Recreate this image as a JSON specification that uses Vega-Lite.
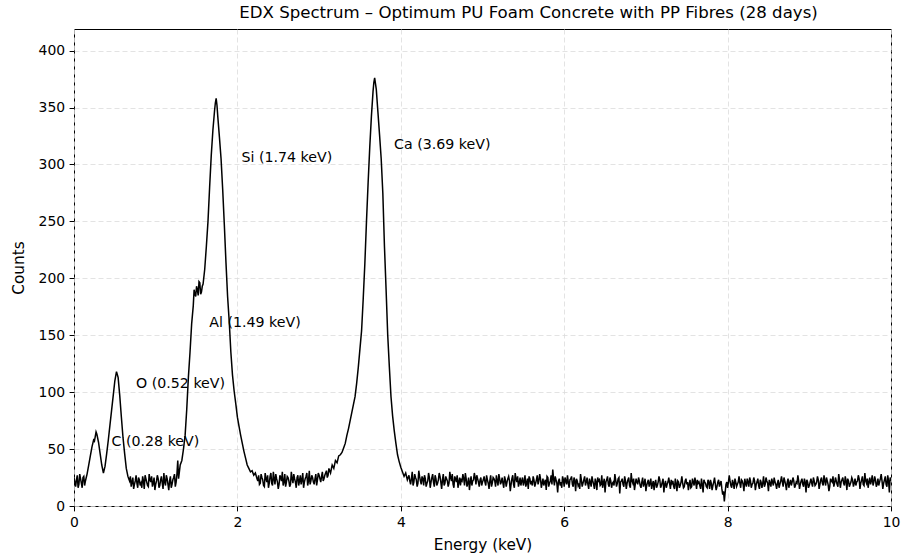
{
"$schema": "https://vega.github.io/schema/vega-lite/v6.json",
"width": 817, "height": 477,
"autosize": {"type": "none"},
"padding": {"left": 74, "top": 29, "right": 11, "bottom": 52},
"background": "white",
"title": {"text": "EDX Spectrum – Optimum PU Foam Concrete with PP Fibres (28 days)", "fontSize": 16.6, "fontWeight": "normal", "font": "DejaVu Sans", "color": "#000", "offset": 7, "anchor": "middle", "dx": 46},
"datasets": {
"spec": [
{"e":0.00,"c":25},{"e":0.02,"c":17},{"e":0.04,"c":27},{"e":0.06,"c":19},{"e":0.08,"c":24},{"e":0.10,"c":16},{"e":0.12,"c":26},{"e":0.14,"c":22},
{"e":0.16,"c":28},{"e":0.18,"c":36},{"e":0.20,"c":44},{"e":0.22,"c":52},{"e":0.24,"c":58},{"e":0.26,"c":61},{"e":0.28,"c":63},{"e":0.30,"c":56},{"e":0.32,"c":46},{"e":0.34,"c":36},{"e":0.36,"c":29},
{"e":0.38,"c":35},{"e":0.40,"c":46},{"e":0.42,"c":58},{"e":0.44,"c":71},{"e":0.46,"c":84},{"e":0.48,"c":97},{"e":0.50,"c":110},{"e":0.52,"c":118},{"e":0.54,"c":113},{"e":0.56,"c":97},{"e":0.58,"c":78},{"e":0.60,"c":60},{"e":0.62,"c":46},{"e":0.64,"c":33},{"e":0.66,"c":26},
{"e":0.68,"c":22},{"e":0.70,"c":17},{"e":0.72,"c":25},{"e":0.74,"c":19},{"e":0.76,"c":27},{"e":0.78,"c":16},{"e":0.80,"c":23},{"e":0.82,"c":20},{"e":0.84,"c":26},{"e":0.86,"c":15},{"e":0.88,"c":24},{"e":0.90,"c":18},{"e":0.92,"c":28},{"e":0.94,"c":21},{"e":0.96,"c":17},{"e":0.98,"c":25},{"e":1.00,"c":19},{"e":1.02,"c":27},{"e":1.04,"c":16},{"e":1.06,"c":23},{"e":1.08,"c":20},{"e":1.10,"c":29},{"e":1.12,"c":18},{"e":1.14,"c":24},{"e":1.16,"c":14},{"e":1.18,"c":26},{"e":1.20,"c":19},{"e":1.22,"c":25},{"e":1.24,"c":17},{"e":1.26,"c":28},
{"e":1.28,"c":24},{"e":1.30,"c":36},{"e":1.32,"c":40},{"e":1.34,"c":50},{"e":1.36,"c":62},{"e":1.38,"c":85},{"e":1.40,"c":113},{"e":1.42,"c":135},{"e":1.44,"c":160},{"e":1.46,"c":176},{"e":1.48,"c":186},{"e":1.50,"c":193},{"e":1.52,"c":185},{"e":1.54,"c":196},{"e":1.56,"c":188},{"e":1.58,"c":195},{"e":1.60,"c":208},{"e":1.62,"c":228},{"e":1.64,"c":250},{"e":1.66,"c":280},{"e":1.68,"c":308},{"e":1.70,"c":330},{"e":1.72,"c":347},{"e":1.74,"c":358},{"e":1.76,"c":342},{"e":1.78,"c":324},{"e":1.80,"c":305},{"e":1.82,"c":278},{"e":1.84,"c":247},{"e":1.86,"c":214},{"e":1.88,"c":184},{"e":1.90,"c":162},{"e":1.92,"c":135},{"e":1.94,"c":115},{"e":1.96,"c":101},{"e":1.98,"c":90},{"e":2.00,"c":78},{"e":2.02,"c":70},{"e":2.04,"c":62},{"e":2.06,"c":55},{"e":2.08,"c":48},{"e":2.10,"c":42},{"e":2.12,"c":36},{"e":2.14,"c":33},{"e":2.16,"c":30},{"e":2.18,"c":31},{"e":2.20,"c":27},{"e":2.22,"c":29},{"e":2.24,"c":24},
{"e":2.26,"c":27},{"e":2.28,"c":20},{"e":2.30,"c":25},{"e":2.32,"c":18},{"e":2.34,"c":29},{"e":2.36,"c":21},{"e":2.38,"c":16},{"e":2.40,"c":26},{"e":2.42,"c":20},{"e":2.44,"c":30},{"e":2.46,"c":19},{"e":2.48,"c":24},{"e":2.50,"c":15},{"e":2.52,"c":27},{"e":2.54,"c":22},{"e":2.56,"c":18},{"e":2.58,"c":28},{"e":2.60,"c":21},{"e":2.62,"c":25},{"e":2.64,"c":17},{"e":2.66,"c":30},{"e":2.68,"c":20},{"e":2.70,"c":24},{"e":2.72,"c":16},{"e":2.74,"c":27},{"e":2.76,"c":22},{"e":2.78,"c":19},{"e":2.80,"c":29},{"e":2.82,"c":21},{"e":2.84,"c":26},{"e":2.86,"c":18},{"e":2.88,"c":31},{"e":2.90,"c":22},{"e":2.92,"c":25},{"e":2.94,"c":19},{"e":2.96,"c":28},{"e":2.98,"c":23},{"e":3.00,"c":27},{"e":3.02,"c":21},{"e":3.04,"c":30},{"e":3.06,"c":24},{"e":3.08,"c":29},{"e":3.10,"c":25},
{"e":3.12,"c":33},{"e":3.14,"c":29},{"e":3.16,"c":36},{"e":3.18,"c":33},{"e":3.20,"c":40},{"e":3.22,"c":38},{"e":3.24,"c":44},{"e":3.26,"c":45},{"e":3.28,"c":47},{"e":3.30,"c":51},{"e":3.32,"c":55},{"e":3.34,"c":62},{"e":3.36,"c":68},{"e":3.38,"c":75},{"e":3.40,"c":82},{"e":3.42,"c":89},{"e":3.44,"c":96},{"e":3.46,"c":108},{"e":3.48,"c":122},{"e":3.50,"c":138},{"e":3.52,"c":154},{"e":3.54,"c":182},{"e":3.56,"c":213},{"e":3.58,"c":250},{"e":3.60,"c":284},{"e":3.62,"c":315},{"e":3.64,"c":342},{"e":3.66,"c":364},{"e":3.68,"c":376},{"e":3.70,"c":366},{"e":3.72,"c":346},{"e":3.74,"c":326},{"e":3.76,"c":305},{"e":3.78,"c":275},{"e":3.80,"c":228},{"e":3.82,"c":190},{"e":3.84,"c":150},{"e":3.86,"c":122},{"e":3.88,"c":96},{"e":3.90,"c":79},{"e":3.92,"c":66},{"e":3.94,"c":55},{"e":3.96,"c":45},{"e":3.98,"c":39},{"e":4.00,"c":34},{"e":4.02,"c":30},{"e":4.04,"c":26},{"e":4.06,"c":29},{"e":4.08,"c":23},
{"e":4.10,"c":27},{"e":4.12,"c":19},{"e":4.14,"c":30},{"e":4.16,"c":21},{"e":4.18,"c":25},{"e":4.20,"c":17},{"e":4.22,"c":31},{"e":4.24,"c":22},{"e":4.26,"c":26},{"e":4.28,"c":18},{"e":4.30,"c":24},{"e":4.32,"c":20},{"e":4.34,"c":29},{"e":4.36,"c":16},{"e":4.38,"c":25},{"e":4.40,"c":21},{"e":4.42,"c":27},{"e":4.44,"c":18},{"e":4.46,"c":23},{"e":4.48,"c":26},{"e":4.50,"c":15},{"e":4.52,"c":28},{"e":4.54,"c":20},{"e":4.56,"c":24},{"e":4.58,"c":17},{"e":4.60,"c":30},{"e":4.62,"c":22},{"e":4.64,"c":19},{"e":4.66,"c":26},{"e":4.68,"c":21},{"e":4.70,"c":16},{"e":4.72,"c":25},{"e":4.74,"c":23},{"e":4.76,"c":28},{"e":4.78,"c":18},{"e":4.80,"c":24},{"e":4.82,"c":20},{"e":4.84,"c":14},{"e":4.86,"c":26},{"e":4.88,"c":22},{"e":4.90,"c":29},{"e":4.92,"c":19},{"e":4.94,"c":24},{"e":4.96,"c":17},{"e":4.98,"c":25},{"e":5.00,"c":21},
{"e":5.02,"c":26},{"e":5.04,"c":18},{"e":5.06,"c":23},{"e":5.08,"c":15},{"e":5.10,"c":27},{"e":5.12,"c":20},{"e":5.14,"c":24},{"e":5.16,"c":17},{"e":5.18,"c":22},{"e":5.20,"c":28},{"e":5.22,"c":19},{"e":5.24,"c":25},{"e":5.26,"c":16},{"e":5.28,"c":23},{"e":5.30,"c":21},{"e":5.32,"c":26},{"e":5.34,"c":13},{"e":5.36,"c":24},{"e":5.38,"c":19},{"e":5.40,"c":29},{"e":5.42,"c":21},{"e":5.44,"c":17},{"e":5.46,"c":25},{"e":5.48,"c":22},{"e":5.50,"c":18},{"e":5.52,"c":27},{"e":5.54,"c":20},{"e":5.56,"c":15},{"e":5.58,"c":24},{"e":5.60,"c":22},{"e":5.62,"c":26},{"e":5.64,"c":17},{"e":5.66,"c":23},{"e":5.68,"c":19},{"e":5.70,"c":28},{"e":5.72,"c":16},{"e":5.74,"c":24},{"e":5.76,"c":21},{"e":5.78,"c":14},{"e":5.80,"c":25},{"e":5.82,"c":20},{"e":5.84,"c":27},{"e":5.86,"c":32},{"e":5.88,"c":18},{"e":5.90,"c":23},{"e":5.92,"c":12},{"e":5.94,"c":24},{"e":5.96,"c":21},{"e":5.98,"c":26},{"e":6.00,"c":17},
{"e":6.02,"c":22},{"e":6.04,"c":27},{"e":6.06,"c":16},{"e":6.08,"c":24},{"e":6.10,"c":19},{"e":6.12,"c":25},{"e":6.14,"c":13},{"e":6.16,"c":22},{"e":6.18,"c":20},{"e":6.20,"c":28},{"e":6.22,"c":17},{"e":6.24,"c":23},{"e":6.26,"c":18},{"e":6.28,"c":25},{"e":6.30,"c":15},{"e":6.32,"c":21},{"e":6.34,"c":26},{"e":6.36,"c":19},{"e":6.38,"c":24},{"e":6.40,"c":14},{"e":6.42,"c":22},{"e":6.44,"c":18},{"e":6.46,"c":27},{"e":6.48,"c":20},{"e":6.50,"c":12},{"e":6.52,"c":23},{"e":6.54,"c":19},{"e":6.56,"c":25},{"e":6.58,"c":16},{"e":6.60,"c":21},{"e":6.62,"c":28},{"e":6.64,"c":17},{"e":6.66,"c":24},{"e":6.68,"c":11},{"e":6.70,"c":22},{"e":6.72,"c":19},{"e":6.74,"c":26},{"e":6.76,"c":15},{"e":6.78,"c":23},{"e":6.80,"c":18},{"e":6.82,"c":29},{"e":6.84,"c":20},{"e":6.86,"c":14},{"e":6.88,"c":24},{"e":6.90,"c":19},{"e":6.92,"c":22},{"e":6.94,"c":16},{"e":6.96,"c":25},{"e":6.98,"c":20},{"e":7.00,"c":13},
{"e":7.02,"c":21},{"e":7.04,"c":17},{"e":7.06,"c":24},{"e":7.08,"c":19},{"e":7.10,"c":14},{"e":7.12,"c":23},{"e":7.14,"c":18},{"e":7.16,"c":26},{"e":7.18,"c":16},{"e":7.20,"c":21},{"e":7.22,"c":12},{"e":7.24,"c":22},{"e":7.26,"c":19},{"e":7.28,"c":25},{"e":7.30,"c":15},{"e":7.32,"c":20},{"e":7.34,"c":17},{"e":7.36,"c":24},{"e":7.38,"c":13},{"e":7.40,"c":21},{"e":7.42,"c":18},{"e":7.44,"c":26},{"e":7.46,"c":16},{"e":7.48,"c":22},{"e":7.50,"c":19},{"e":7.52,"c":14},{"e":7.54,"c":23},{"e":7.56,"c":17},{"e":7.58,"c":21},{"e":7.60,"c":25},{"e":7.62,"c":15},{"e":7.64,"c":20},{"e":7.66,"c":18},{"e":7.68,"c":24},{"e":7.70,"c":12},{"e":7.72,"c":21},{"e":7.74,"c":17},{"e":7.76,"c":23},{"e":7.78,"c":15},{"e":7.80,"c":20},{"e":7.82,"c":18},{"e":7.84,"c":25},{"e":7.86,"c":14},{"e":7.88,"c":21},{"e":7.90,"c":17},{"e":7.92,"c":22},{"e":7.94,"c":10},{"e":7.96,"c":4},{"e":7.98,"c":19},{"e":8.00,"c":16},
{"e":8.02,"c":27},{"e":8.04,"c":18},{"e":8.06,"c":23},{"e":8.08,"c":15},{"e":8.10,"c":21},{"e":8.12,"c":19},{"e":8.14,"c":26},{"e":8.16,"c":16},{"e":8.18,"c":22},{"e":8.20,"c":13},{"e":8.22,"c":20},{"e":8.24,"c":24},{"e":8.26,"c":17},{"e":8.28,"c":22},{"e":8.30,"c":19},{"e":8.32,"c":25},{"e":8.34,"c":14},{"e":8.36,"c":21},{"e":8.38,"c":18},{"e":8.40,"c":23},{"e":8.42,"c":16},{"e":8.44,"c":26},{"e":8.46,"c":19},{"e":8.48,"c":22},{"e":8.50,"c":13},{"e":8.52,"c":20},{"e":8.54,"c":24},{"e":8.56,"c":18},{"e":8.58,"c":21},{"e":8.60,"c":15},{"e":8.62,"c":23},{"e":8.64,"c":19},{"e":8.66,"c":26},{"e":8.68,"c":17},{"e":8.70,"c":22},{"e":8.72,"c":14},{"e":8.74,"c":24},{"e":8.76,"c":20},{"e":8.78,"c":18},{"e":8.80,"c":25},{"e":8.82,"c":16},{"e":8.84,"c":21},{"e":8.86,"c":27},{"e":8.88,"c":15},{"e":8.90,"c":22},{"e":8.92,"c":19},{"e":8.94,"c":24},{"e":8.96,"c":12},{"e":8.98,"c":21},{"e":9.00,"c":18},
{"e":9.02,"c":24},{"e":9.04,"c":17},{"e":9.06,"c":22},{"e":9.08,"c":19},{"e":9.10,"c":26},{"e":9.12,"c":15},{"e":9.14,"c":23},{"e":9.16,"c":20},{"e":9.18,"c":27},{"e":9.20,"c":18},{"e":9.22,"c":22},{"e":9.24,"c":13},{"e":9.26,"c":24},{"e":9.28,"c":21},{"e":9.30,"c":17},{"e":9.32,"c":25},{"e":9.34,"c":19},{"e":9.36,"c":28},{"e":9.38,"c":16},{"e":9.40,"c":23},{"e":9.42,"c":20},{"e":9.44,"c":26},{"e":9.46,"c":14},{"e":9.48,"c":22},{"e":9.50,"c":19},{"e":9.52,"c":25},{"e":9.54,"c":17},{"e":9.56,"c":24},{"e":9.58,"c":21},{"e":9.60,"c":27},{"e":9.62,"c":15},{"e":9.64,"c":23},{"e":9.66,"c":19},{"e":9.68,"c":29},{"e":9.70,"c":20},{"e":9.72,"c":16},{"e":9.74,"c":25},{"e":9.76,"c":22},{"e":9.78,"c":18},{"e":9.80,"c":26},{"e":9.82,"c":17},{"e":9.84,"c":24},{"e":9.86,"c":21},{"e":9.88,"c":28},{"e":9.90,"c":15},{"e":9.92,"c":23},{"e":9.94,"c":19},{"e":9.96,"c":27},{"e":9.98,"c":12},{"e":10.00,"c":22},
{"e":0.01,"c":21},{"e":0.03,"c":23},{"e":0.05,"c":16},{"e":0.07,"c":28},{"e":0.09,"c":20},{"e":0.11,"c":25},{"e":0.13,"c":18},{"e":0.15,"c":25},{"e":0.25,"c":57},{"e":0.27,"c":65},
{"e":0.67,"c":24},{"e":0.69,"c":26},{"e":0.71,"c":21},{"e":0.73,"c":15},{"e":0.75,"c":22},{"e":0.77,"c":20},{"e":0.79,"c":25},{"e":0.81,"c":18},{"e":0.83,"c":16},{"e":0.85,"c":22},{"e":0.87,"c":27},{"e":0.89,"c":21},{"e":0.91,"c":17},{"e":0.93,"c":23},{"e":0.95,"c":26},{"e":0.97,"c":20},{"e":0.99,"c":14},{"e":1.01,"c":22},{"e":1.03,"c":24},{"e":1.05,"c":18},{"e":1.07,"c":26},{"e":1.09,"c":15},{"e":1.11,"c":21},{"e":1.13,"c":27},{"e":1.15,"c":19},{"e":1.17,"c":22},{"e":1.19,"c":16},{"e":1.21,"c":23},{"e":1.23,"c":28},{"e":1.25,"c":21},{"e":1.27,"c":40},
{"e":1.47,"c":190},{"e":1.49,"c":184},{"e":1.51,"c":190},{"e":1.53,"c":197},{"e":1.55,"c":186},{"e":1.57,"c":193},{"e":1.73,"c":354},{"e":1.75,"c":352},{"e":3.67,"c":372},{"e":3.69,"c":371},
{"e":2.25,"c":22},{"e":2.27,"c":19},{"e":2.29,"c":28},{"e":2.31,"c":23},{"e":2.33,"c":17},{"e":2.35,"c":24},{"e":2.37,"c":27},{"e":2.39,"c":20},{"e":2.41,"c":29},{"e":2.43,"c":18},{"e":2.45,"c":24},{"e":2.47,"c":28},{"e":2.49,"c":21},{"e":2.51,"c":19},{"e":2.53,"c":25},{"e":2.55,"c":30},{"e":2.57,"c":21},{"e":2.59,"c":17},{"e":2.61,"c":26},{"e":2.63,"c":22},{"e":2.65,"c":19},{"e":2.67,"c":24},{"e":2.69,"c":28},{"e":2.71,"c":21},{"e":2.73,"c":25},{"e":2.75,"c":18},{"e":2.77,"c":27},{"e":2.79,"c":23},{"e":2.81,"c":16},{"e":2.83,"c":24},{"e":2.85,"c":29},{"e":2.87,"c":22},{"e":2.89,"c":19},{"e":2.91,"c":27},{"e":2.93,"c":21},{"e":2.95,"c":24},{"e":2.97,"c":18},{"e":2.99,"c":29},{"e":3.01,"c":24},{"e":3.03,"c":26},{"e":3.05,"c":22},{"e":3.07,"c":27},{"e":3.09,"c":31},{"e":3.11,"c":27},
{"e":4.09,"c":25},{"e":4.11,"c":22},{"e":4.13,"c":24},{"e":4.15,"c":18},{"e":4.17,"c":28},{"e":4.19,"c":23},{"e":4.21,"c":20},{"e":4.23,"c":26},{"e":4.25,"c":19},{"e":4.27,"c":24},{"e":4.29,"c":27},{"e":4.31,"c":17},{"e":4.33,"c":22},{"e":4.35,"c":25},{"e":4.37,"c":21},{"e":4.39,"c":28},{"e":4.41,"c":17},{"e":4.43,"c":24},{"e":4.45,"c":20},{"e":4.47,"c":29},{"e":4.49,"c":21},{"e":4.51,"c":23},{"e":4.53,"c":18},{"e":4.55,"c":26},{"e":4.57,"c":22},{"e":4.59,"c":20},{"e":4.61,"c":25},{"e":4.63,"c":28},{"e":4.65,"c":16},{"e":4.67,"c":24},{"e":4.69,"c":27},{"e":4.71,"c":21},{"e":4.73,"c":18},{"e":4.75,"c":22},{"e":4.77,"c":24},{"e":4.79,"c":29},{"e":4.81,"c":17},{"e":4.83,"c":25},{"e":4.85,"c":21},{"e":4.87,"c":18},{"e":4.89,"c":23},{"e":4.91,"c":25},{"e":4.93,"c":27},{"e":4.95,"c":21},{"e":4.97,"c":23},{"e":4.99,"c":18},
{"e":5.01,"c":23},{"e":5.03,"c":21},{"e":5.05,"c":27},{"e":5.07,"c":20},{"e":5.09,"c":22},{"e":5.11,"c":17},{"e":5.13,"c":25},{"e":5.15,"c":22},{"e":5.17,"c":27},{"e":5.19,"c":18},{"e":5.21,"c":24},{"e":5.23,"c":21},{"e":5.25,"c":20},{"e":5.27,"c":26},{"e":5.29,"c":17},{"e":5.31,"c":24},{"e":5.33,"c":22},{"e":5.35,"c":19},{"e":5.37,"c":27},{"e":5.39,"c":16},{"e":5.41,"c":24},{"e":5.43,"c":26},{"e":5.45,"c":20},{"e":5.47,"c":18},{"e":5.49,"c":25},{"e":5.51,"c":21},{"e":5.53,"c":17},{"e":5.55,"c":24},{"e":5.57,"c":26},{"e":5.59,"c":19},{"e":5.61,"c":18},{"e":5.63,"c":23},{"e":5.65,"c":20},{"e":5.67,"c":27},{"e":5.69,"c":22},{"e":5.71,"c":24},{"e":5.73,"c":20},{"e":5.75,"c":18},{"e":5.77,"c":23},{"e":5.79,"c":26},{"e":5.81,"c":17},{"e":5.83,"c":22},{"e":5.85,"c":19},{"e":5.87,"c":24},{"e":5.89,"c":26},{"e":5.91,"c":20},{"e":5.93,"c":22},{"e":5.95,"c":18},{"e":5.97,"c":16},{"e":5.99,"c":23},
{"e":6.01,"c":25},{"e":6.03,"c":19},{"e":6.05,"c":21},{"e":6.07,"c":23},{"e":6.09,"c":26},{"e":6.11,"c":17},{"e":6.13,"c":22},{"e":6.15,"c":24},{"e":6.17,"c":18},{"e":6.19,"c":15},{"e":6.21,"c":23},{"e":6.23,"c":20},{"e":6.25,"c":26},{"e":6.27,"c":21},{"e":6.29,"c":19},{"e":6.31,"c":24},{"e":6.33,"c":17},{"e":6.35,"c":22},{"e":6.37,"c":15},{"e":6.39,"c":21},{"e":6.41,"c":25},{"e":6.43,"c":23},{"e":6.45,"c":19},{"e":6.47,"c":16},{"e":6.49,"c":24},{"e":6.51,"c":21},{"e":6.53,"c":26},{"e":6.55,"c":17},{"e":6.57,"c":22},{"e":6.59,"c":20},{"e":6.61,"c":18},{"e":6.63,"c":23},{"e":6.65,"c":20},{"e":6.67,"c":25},{"e":6.69,"c":21},{"e":6.71,"c":24},{"e":6.73,"c":17},{"e":6.75,"c":22},{"e":6.77,"c":20},{"e":6.79,"c":25},{"e":6.81,"c":16},{"e":6.83,"c":22},{"e":6.85,"c":24},{"e":6.87,"c":19},{"e":6.89,"c":21},{"e":6.91,"c":25},{"e":6.93,"c":18},{"e":6.95,"c":21},{"e":6.97,"c":17},{"e":6.99,"c":24},
{"e":7.01,"c":18},{"e":7.03,"c":23},{"e":7.05,"c":20},{"e":7.07,"c":15},{"e":7.09,"c":22},{"e":7.11,"c":20},{"e":7.13,"c":16},{"e":7.15,"c":21},{"e":7.17,"c":23},{"e":7.19,"c":18},{"e":7.21,"c":24},{"e":7.23,"c":19},{"e":7.25,"c":16},{"e":7.27,"c":21},{"e":7.29,"c":20},{"e":7.31,"c":23},{"e":7.33,"c":22},{"e":7.35,"c":15},{"e":7.37,"c":20},{"e":7.39,"c":22},{"e":7.41,"c":16},{"e":7.43,"c":21},{"e":7.45,"c":20},{"e":7.47,"c":17},{"e":7.49,"c":24},{"e":7.51,"c":21},{"e":7.53,"c":19},{"e":7.55,"c":16},{"e":7.57,"c":24},{"e":7.59,"c":18},{"e":7.61,"c":21},{"e":7.63,"c":23},{"e":7.65,"c":21},{"e":7.67,"c":15},{"e":7.69,"c":19},{"e":7.71,"c":23},{"e":7.73,"c":20},{"e":7.75,"c":16},{"e":7.77,"c":21},{"e":7.79,"c":23},{"e":7.81,"c":14},{"e":7.83,"c":21},{"e":7.85,"c":19},{"e":7.87,"c":17},{"e":7.89,"c":23},{"e":7.91,"c":20},{"e":7.93,"c":15},{"e":7.95,"c":13},{"e":7.97,"c":12},{"e":7.99,"c":21},
{"e":8.01,"c":21},{"e":8.03,"c":22},{"e":8.05,"c":16},{"e":8.07,"c":20},{"e":8.09,"c":24},{"e":8.11,"c":17},{"e":8.13,"c":21},{"e":8.15,"c":20},{"e":8.17,"c":23},{"e":8.19,"c":19},{"e":8.21,"c":24},{"e":8.23,"c":17},{"e":8.25,"c":21},{"e":8.27,"c":25},{"e":8.29,"c":16},{"e":8.31,"c":20},{"e":8.33,"c":22},{"e":8.35,"c":19},{"e":8.37,"c":24},{"e":8.39,"c":15},{"e":8.41,"c":21},{"e":8.43,"c":20},{"e":8.45,"c":17},{"e":8.47,"c":25},{"e":8.49,"c":20},{"e":8.51,"c":23},{"e":8.53,"c":17},{"e":8.55,"c":21},{"e":8.57,"c":25},{"e":8.59,"c":19},{"e":8.61,"c":20},{"e":8.63,"c":16},{"e":8.65,"c":22},{"e":8.67,"c":21},{"e":8.69,"c":25},{"e":8.71,"c":19},{"e":8.73,"c":21},{"e":8.75,"c":16},{"e":8.77,"c":23},{"e":8.79,"c":21},{"e":8.81,"c":22},{"e":8.83,"c":18},{"e":8.85,"c":20},{"e":8.87,"c":22},{"e":8.89,"c":19},{"e":8.91,"c":24},{"e":8.93,"c":17},{"e":8.95,"c":21},{"e":8.97,"c":23},{"e":8.99,"c":16},
{"e":9.01,"c":21},{"e":9.03,"c":20},{"e":9.05,"c":25},{"e":9.07,"c":18},{"e":9.09,"c":21},{"e":9.11,"c":23},{"e":9.13,"c":19},{"e":9.15,"c":25},{"e":9.17,"c":18},{"e":9.19,"c":22},{"e":9.21,"c":25},{"e":9.23,"c":19},{"e":9.25,"c":17},{"e":9.27,"c":22},{"e":9.29,"c":26},{"e":9.31,"c":20},{"e":9.33,"c":22},{"e":9.35,"c":17},{"e":9.37,"c":23},{"e":9.39,"c":21},{"e":9.41,"c":25},{"e":9.43,"c":18},{"e":9.45,"c":22},{"e":9.47,"c":24},{"e":9.49,"c":17},{"e":9.51,"c":21},{"e":9.53,"c":23},{"e":9.55,"c":20},{"e":9.57,"c":18},{"e":9.59,"c":22},{"e":9.61,"c":24},{"e":9.63,"c":20},{"e":9.65,"c":26},{"e":9.67,"c":18},{"e":9.69,"c":22},{"e":9.71,"c":24},{"e":9.73,"c":21},{"e":9.75,"c":19},{"e":9.77,"c":27},{"e":9.79,"c":21},{"e":9.81,"c":23},{"e":9.83,"c":19},{"e":9.85,"c":18},{"e":9.87,"c":24},{"e":9.89,"c":22},{"e":9.91,"c":20},{"e":9.93,"c":26},{"e":9.95,"c":17},{"e":9.97,"c":22},{"e":9.99,"c":25}
],
"labels": [
{"e":0.46,"c":56.5,"t":"C (0.28 keV)"},
{"e":0.76,"c":107,"t":"O (0.52 keV)"},
{"e":1.656,"c":160.6,"t":"Al (1.49 keV)"},
{"e":2.05,"c":305.6,"t":"Si (1.74 keV)"},
{"e":3.917,"c":317.4,"t":"Ca (3.69 keV)"}
]
},
"layer": [
{"data": {"name": "spec"},
 "mark": {"type": "line", "color": "#000", "strokeWidth": 1.5, "clip": true},
 "encoding": {
  "x": {"field": "e", "type": "quantitative", "sort": "ascending", "scale": {"domain": [0, 10], "nice": false}, "axis": {"values": [0,2,4,6,8,10], "format": "d", "title": "Energy (keV)"}},
  "y": {"field": "c", "type": "quantitative", "scale": {"domain": [0, 419], "nice": false}, "axis": {"values": [0,50,100,150,200,250,300,350,400], "format": "d", "title": "Counts"}},
  "order": {"field": "e", "type": "quantitative"}
 }},
{"data": {"name": "labels"},
 "mark": {"type": "text", "align": "left", "baseline": "middle", "fontSize": 14.2, "font": "DejaVu Sans", "color": "#000"},
 "encoding": {
  "x": {"field": "e", "type": "quantitative"},
  "y": {"field": "c", "type": "quantitative"},
  "text": {"field": "t"}
 }}
],
"config": {
 "font": "DejaVu Sans",
 "view": {"stroke": "#000", "strokeWidth": 1},
 "axis": {
  "domain": false,
  "labelFont": "DejaVu Sans", "titleFont": "DejaVu Sans",
  "labelColor": "#000", "titleColor": "#000",
  "labelFontSize": 13.9, "titleFontSize": 15.3, "titleFontWeight": "normal",
  "tickColor": "#000", "tickSize": 4.9, "tickWidth": 1,
  "labelPadding": 4.5,
  "grid": true, "gridColor": "#dcdcdc", "gridDash": [5, 3], "gridWidth": 0.8
 },
 "axisX": {"titlePadding": 8, "labelFlush": false},
 "axisY": {"titlePadding": 12}
}
}
